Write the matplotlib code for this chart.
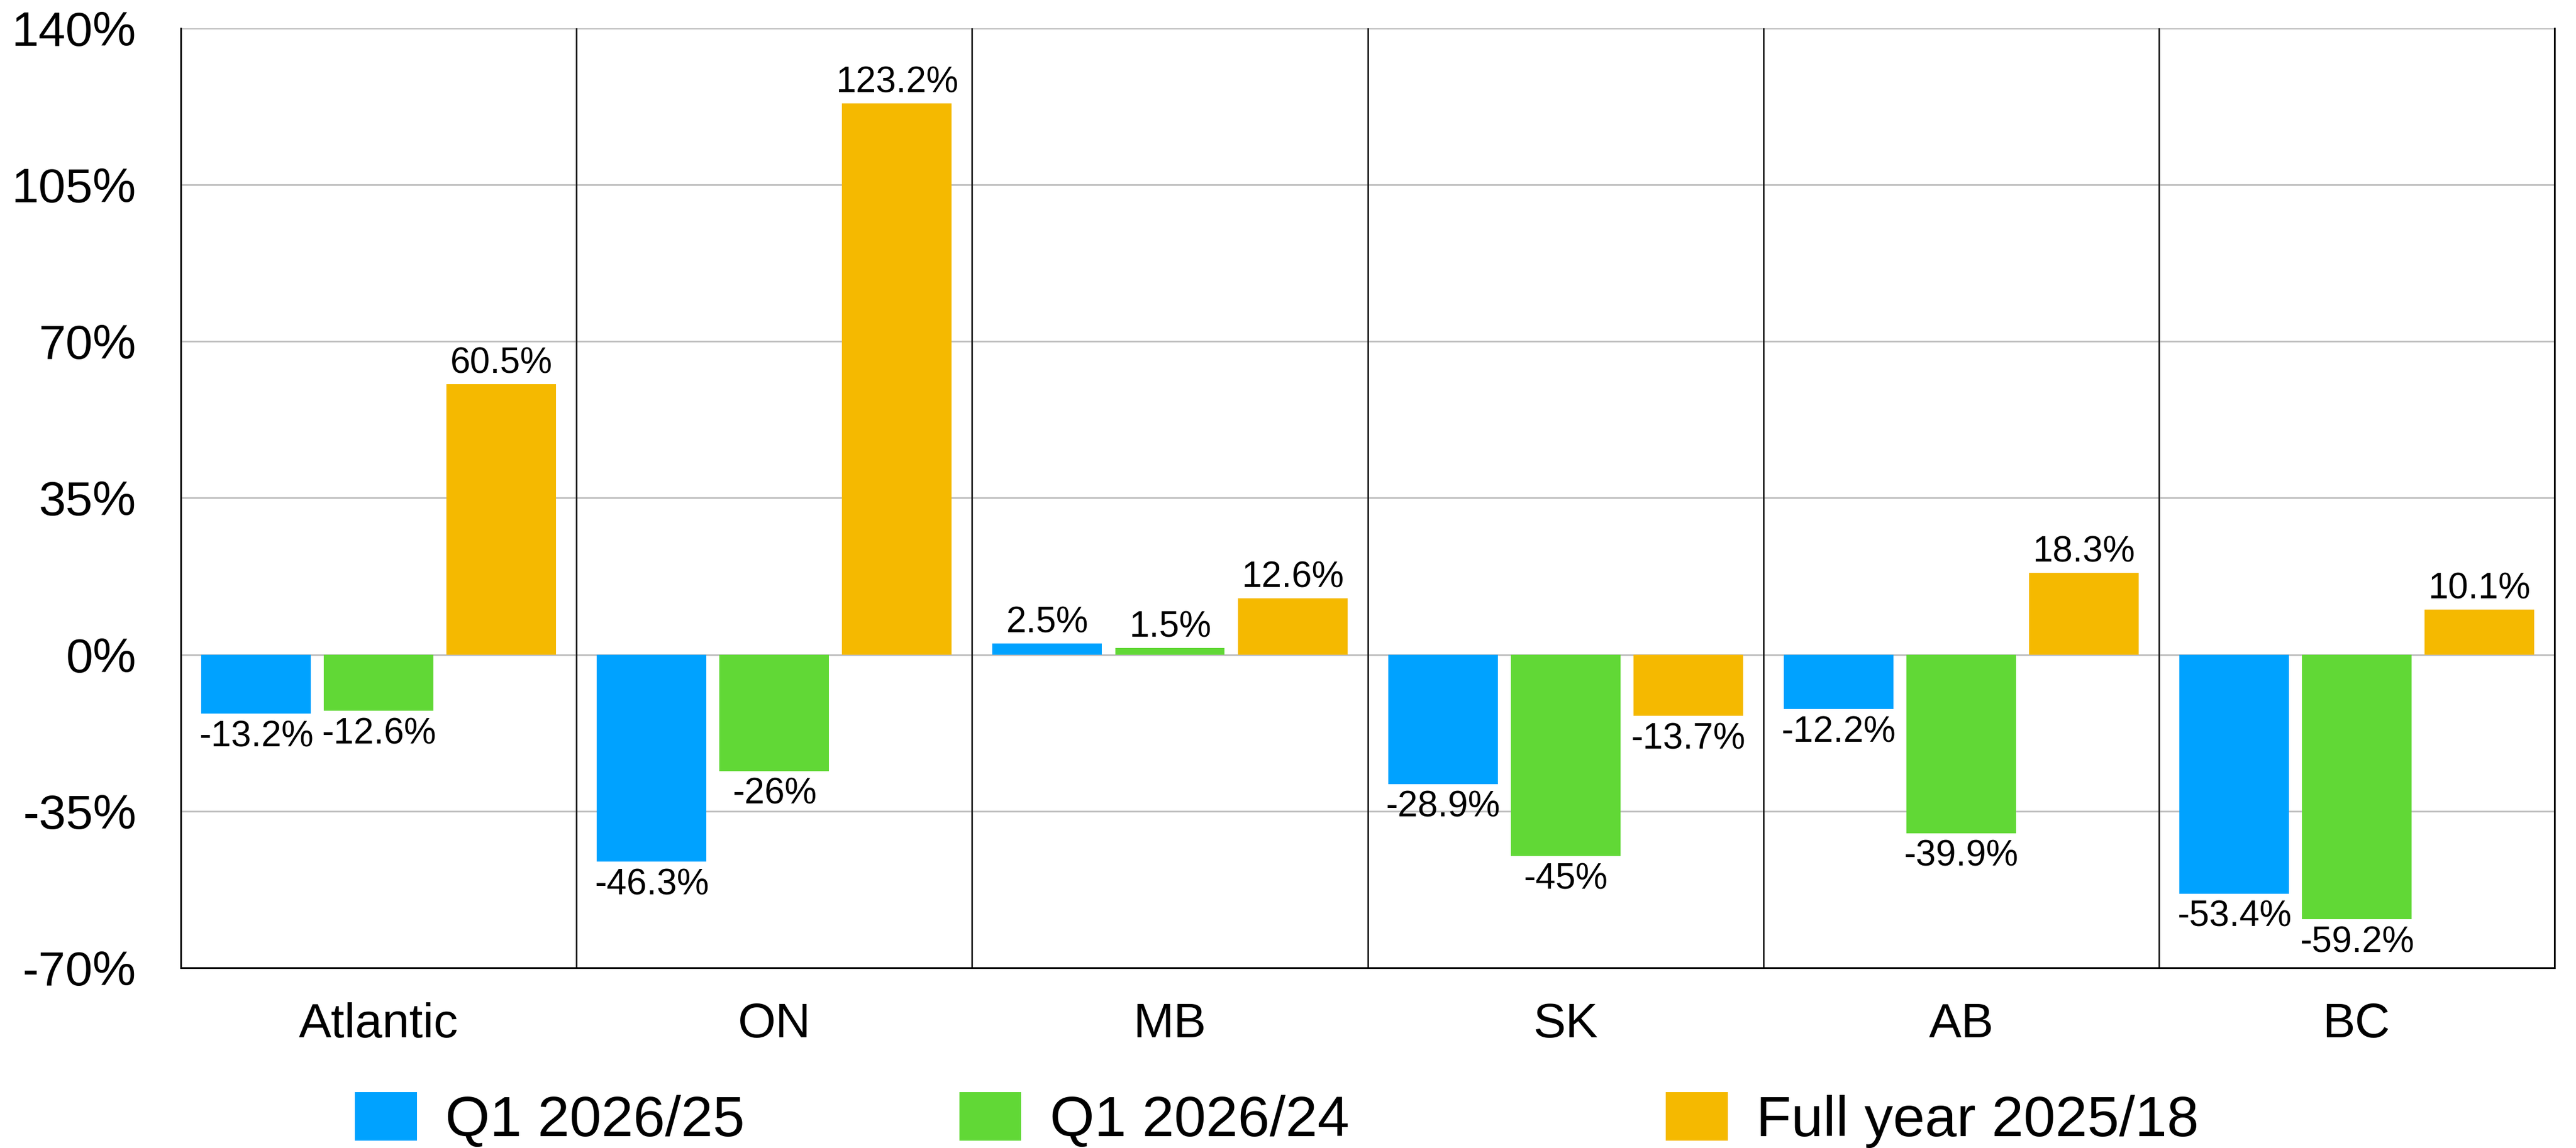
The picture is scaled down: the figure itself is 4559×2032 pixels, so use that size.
import matplotlib
matplotlib.use("Agg")
import matplotlib.pyplot as plt
import numpy as np
from matplotlib.patches import Patch

plt.rcParams['font.family'] = ['Liberation Sans', 'DejaVu Sans']

categories = ["Atlantic", "ON", "MB", "SK", "AB", "BC"]
series_names = ["Q1 2026/25", "Q1 2026/24", "Full year 2025/18"]
q1_2026_25 = [-13.2, -46.3, 2.5, -28.9, -12.2, -53.4]
q1_2026_24 = [-12.6, -26.0, 1.5, -45.0, -39.9, -59.2]
full_2025_18 = [60.5, 123.2, 12.6, -13.7, 18.3, 10.1]
colors = ["#00A2FF", "#61D836", "#F5B900"]
yticks = [-70, -35, 0, 35, 70, 105, 140]

fig = plt.figure(figsize=(45.59, 20.32), dpi=100)
ax = fig.add_axes([0.0702, 0.1570, 0.9215, 0.8184])

x = np.arange(len(categories))
offsets = [-0.31, 0.0, 0.31]
width = 0.277
all_series = [q1_2026_25, q1_2026_24, full_2025_18]

for s, (vals, off, col) in enumerate(zip(all_series, offsets, colors)):
    bars = ax.bar(x + off, vals, width=width, color=col, zorder=3)
    for xi, v in zip(x + off, vals):
        lab = f"{v:g}%"
        if v >= 0:
            ax.annotate(lab, (xi, v), xytext=(0, 14), textcoords="offset points",
                        ha="center", va="baseline", fontsize=46, zorder=4)
        else:
            ax.annotate(lab, (xi, v), xytext=(0, -8), textcoords="offset points",
                        ha="center", va="top", fontsize=46, zorder=4)

ax.set_xlim(-0.5, len(categories) - 0.5)
ax.set_ylim(-70, 140)
ax.set_yticks(yticks)
ax.set_yticklabels([f"{t}%" for t in yticks])
ax.set_xticks(x)
ax.set_xticklabels(categories)
ax.tick_params(axis="y", length=0, pad=57, labelsize=62)
ax.tick_params(axis="x", length=0, pad=44, labelsize=62)

for t in yticks:
    ax.axhline(t, color="#C0C0C0", lw=2.2, zorder=1)
for b in np.arange(0.5, len(categories) - 0.5, 1.0):
    ax.axvline(b, color="#1a1a1a", lw=2.0, zorder=2)

for side in ["left", "bottom", "right"]:
    ax.spines[side].set_color("black")
    ax.spines[side].set_linewidth(2.2)
ax.spines["top"].set_visible(False)

legend_x = [0.1378, 0.3724, 0.6467]
for name, col, lx in zip(series_names, colors, legend_x):
    fig.legend([Patch(facecolor=col, edgecolor="none")], [name], loc="center left",
               bbox_to_anchor=(lx, 0.0245), frameon=False, fontsize=73,
               handlelength=1.08, handleheight=0.93, handletextpad=0.5,
               borderpad=0, borderaxespad=0)

fig.savefig("out.png", dpi=100, facecolor="white")
